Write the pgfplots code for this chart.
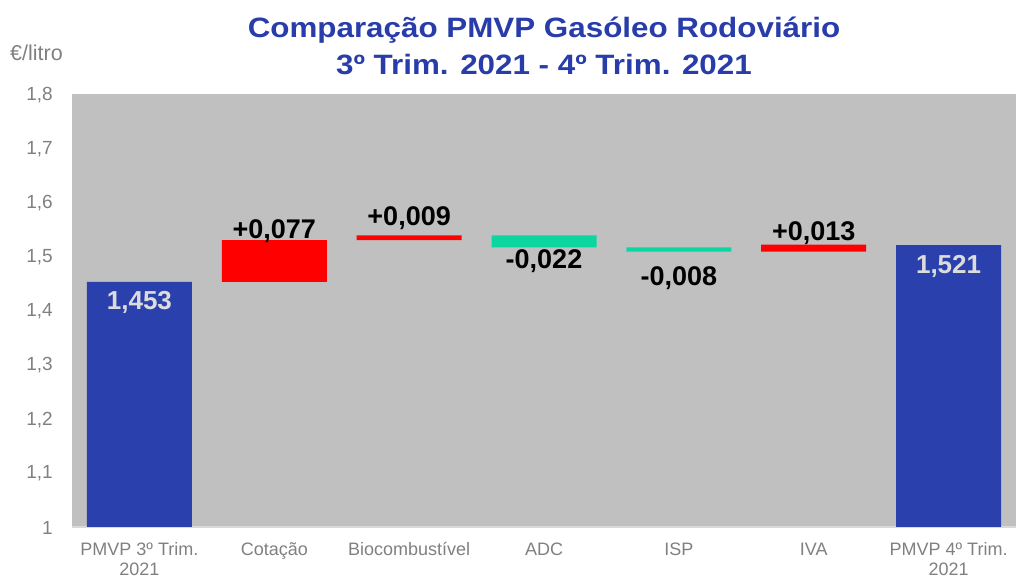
\documentclass[border=0pt]{standalone}
\usepackage{pgfplots}
\pgfplotsset{compat=1.18}
\usepackage{fontspec}
\setmainfont{Liberation Sans}
\newfontfamily\titlefont[FakeStretch=1.12]{Liberation Sans}
\definecolor{barblue}{RGB}{42,64,172}
\definecolor{barred}{RGB}{255,0,0}
\definecolor{bargreen}{RGB}{12,214,160}
\definecolor{bggray}{RGB}{192,192,192}
\definecolor{tickgray}{RGB}{128,128,128}
\definecolor{linegray}{RGB}{217,217,217}
\definecolor{titleblue}{RGB}{40,60,170}
\definecolor{lablight}{RGB}{220,220,220}
\tikzset{vlab/.style={anchor=base, inner sep=0pt, font=\fontsize{27}{27}\selectfont\bfseries}}
\begin{document}
\begin{tikzpicture}
\useasboundingbox (0,0) rectangle (1016pt,578pt);
\node[anchor=base, inner sep=0pt, font=\titlefont\fontsize{28}{28}\selectfont\bfseries, text=titleblue] at (544pt,540.3pt) {Comparação PMVP Gasóleo Rodoviário};
\node[anchor=base, inner sep=0pt, font=\titlefont\fontsize{28}{28}\selectfont\bfseries, text=titleblue] at (544pt,503pt) {3º Trim. 2021 - 4º Trim. 2021};
\node[anchor=base west, inner sep=0pt, font=\fontsize{21.5}{21.5}\selectfont, text=tickgray] at (10pt,517pt) {€/litro};
\begin{axis}[
  at={(72pt,51.3pt)}, anchor=south west,
  scale only axis, width=944pt, height=432.4pt,
  xmin=-0.5, xmax=6.5, ymin=1, ymax=1.8,
  ybar stacked, bar width=105pt,
  axis background/.style={fill=bggray},
  axis x line*=bottom, axis y line*=left,
  x axis line style={draw=linegray, line width=2pt, -},
  y axis line style={draw=none},
  major tick length=0pt,
  /pgf/number format/assume math mode=true,
  xtick={0,1,2,3,4,5,6},
  xticklabels={{\strut PMVP 3º Trim.\\2021},{\strut Cotação},{\strut Biocombustível},{\strut ADC},{\strut ISP},{\strut IVA},{\strut PMVP 4º Trim.\\2021}},
  xticklabel style={align=center, font=\fontsize{18}{20}\selectfont, text=tickgray, anchor=north, inner sep=0pt, yshift=-14.3pt},
  ytick={1,1.1,1.2,1.3,1.4,1.5,1.6,1.7,1.8},
  yticklabel style={/pgf/number format/use comma, /pgf/number format/fixed, /pgf/number format/precision=1, font=\fontsize{19}{22}\selectfont, text=tickgray, anchor=east, inner sep=0pt, xshift=-19pt, yshift=-1pt},
]
% invisible base
\addplot[draw=none, fill=none] coordinates {(0,0) (1,1.453) (2,1.530) (3,1.517) (4,1.509) (5,1.509) (6,0)};
% totals
\addplot[draw=none, fill=barblue] coordinates {(0,1.453) (1,0) (2,0) (3,0) (4,0) (5,0) (6,1.521)};
% increases
\addplot[draw=none, fill=barred] coordinates {(0,0) (1,0.077) (2,0.009) (3,0) (4,0) (5,0.013) (6,0)};
% decreases
\addplot[draw=none, fill=bargreen] coordinates {(0,0) (1,0) (2,0) (3,0.022) (4,0.008) (5,0) (6,0)};
\coordinate (L0) at (axis cs:0,1.401);
\coordinate (L1) at (axis cs:1,1.534);
\coordinate (L2) at (axis cs:2,1.558);
\coordinate (L3) at (axis cs:3,1.478);
\coordinate (L4) at (axis cs:4,1.447);
\coordinate (L5) at (axis cs:5,1.530);
\coordinate (L6) at (axis cs:6,1.469);
\end{axis}
\node[vlab, text=lablight, font=\fontsize{26}{26}\selectfont\bfseries] at (L0) {1,453};
\node[vlab] at (L1) {+0,077};
\node[vlab] at (L2) {+0,009};
\node[vlab] at (L3) {-0,022};
\node[vlab] at (L4) {-0,008};
\node[vlab] at (L5) {+0,013};
\node[vlab, text=lablight, font=\fontsize{26}{26}\selectfont\bfseries] at (L6) {1,521};
\end{tikzpicture}
\end{document}
